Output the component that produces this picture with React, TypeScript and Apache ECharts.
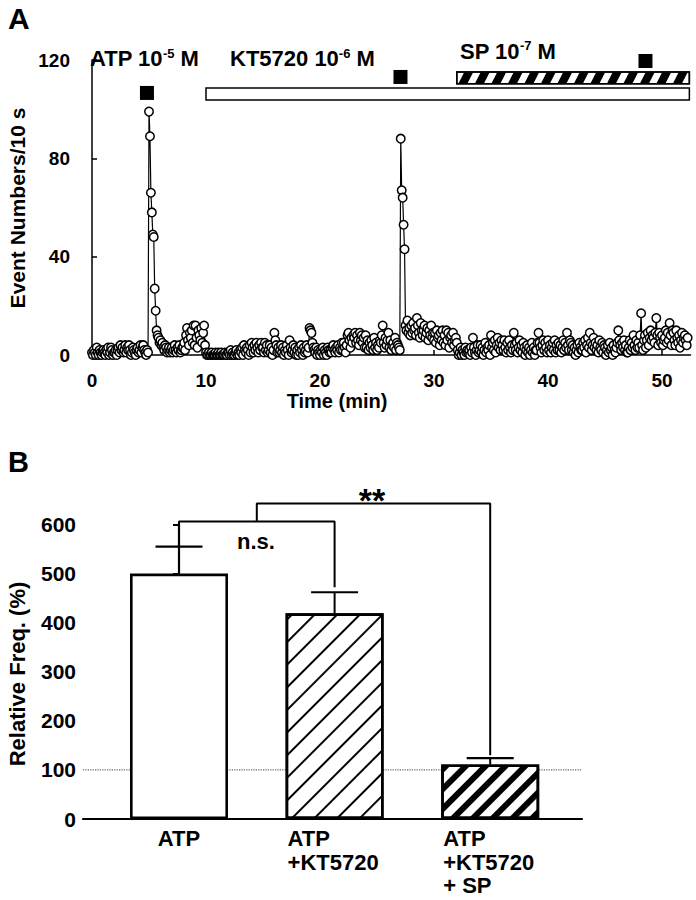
import React, { useEffect, useRef } from 'react';
import * as echarts from 'echarts';

const FONT = '"Liberation Sans", Arial, Helvetica, sans-serif';

// ---------- Panel A data (event counts per 10 s window, one value every 5 s; one row per minute) ----------
const sampleStepMin = 1 / 12;
const eventCounts = [
  1, 0, 2, 1, 0, 3, 1, 0, 2, 1, 0, 1,
  2, 1, 0, 2, 1, 3, 0, 1, 3, 2, 0, 1,
  1, 2, 0, 2, 3, 1, 4, 2, 3, 1, 2, 4,
  1, 3, 2, 4, 2, 0, 1, 3, 2, 1, 0, 2,
  3, 1, 2, 4, 1, 3, 4, 2, 1, 0, 2, 1,
  99, 89, 66, 58, 49, 48, 27, 18, 10, 8, 7, 5,
  6, 4, 5, 3, 2, 4, 3, 1, 2, 3, 1, 2,
  3, 1, 2, 4, 2, 1, 3, 2, 4, 1, 2, 3,
  3, 5, 2, 8, 11, 6, 4, 9, 7, 10, 5, 12,
  4, 12, 7, 3, 10, 8, 6, 11, 5, 9, 12, 4,
  1, 0, 0, 1, 0, 0, 1, 0, 0, 0, 1, 0,
  0, 1, 0, 0, 1, 0, 0, 0, 1, 0, 0, 1,
  1, 0, 2, 0, 1, 0, 0, 1, 2, 0, 1, 0,
  2, 1, 3, 0, 4, 2, 1, 3, 2, 0, 4, 1,
  5, 3, 1, 4, 2, 5, 3, 1, 4, 2, 5, 3,
  3, 1, 5, 2, 4, 1, 2, 4, 1, 3, 0, 2,
  9, 6, 4, 1, 3, 1, 2, 4, 1, 3, 0, 2,
  1, 4, 2, 0, 6, 3, 1, 2, 4, 1, 3, 0,
  2, 0, 3, 1, 4, 2, 0, 3, 1, 2, 4, 1,
  3, 11, 10, 9, 5, 3, 2, 1, 3, 0, 2, 1,
  0, 2, 1, 3, 0, 2, 1, 0, 3, 2, 1, 2,
  1, 3, 4, 2, 1, 3, 2, 4, 1, 3, 2, 5,
  2, 5, 3, 1, 4, 8, 9, 6, 3, 7, 5, 8,
  7, 9, 5, 8, 6, 4, 9, 6, 8, 5, 7, 3,
  8, 3, 6, 2, 5, 3, 6, 4, 2, 7, 3, 5,
  2, 4, 3, 6, 5, 8, 12, 5, 3, 7, 4, 6,
  9, 3, 6, 2, 4, 5, 3, 7, 2, 5, 4, 3,
  2, 88, 67, 64, 53, 43, 12, 10, 14, 9, 11, 8,
  12, 9, 13, 10, 11, 8, 15, 12, 9, 7, 13, 10,
  8, 10, 12, 7, 9, 11, 6, 10, 8, 12, 7, 9,
  6, 9, 5, 10, 7, 8, 4, 9, 6, 10, 5, 8,
  4, 10, 6, 9, 3, 7, 8, 5, 9, 4, 6, 7,
  5, 2, 0, 1, 3, 0, 2, 1, 0, 3, 1, 2,
  1, 2, 0, 3, 1, 7, 3, 1, 0, 2, 4, 1,
  2, 4, 1, 3, 0, 2, 5, 1, 3, 2, 4, 0,
  8, 3, 5, 2, 6, 1, 4, 7, 3, 5, 2, 6,
  4, 2, 6, 3, 1, 5, 2, 6, 3, 1, 4, 2,
  9, 4, 2, 5, 1, 3, 6, 2, 4, 1, 5, 3,
  0, 2, 4, 1, 3, 0, 2, 5, 1, 3, 0, 2,
  2, 5, 9, 5, 3, 1, 4, 6, 2, 5, 3, 1,
  6, 2, 4, 1, 3, 5, 2, 6, 1, 4, 2, 5,
  2, 4, 1, 3, 6, 2, 5, 3, 9, 4, 2, 6,
  5, 2, 4, 1, 3, 0, 2, 4, 1, 5, 3, 2,
  2, 5, 3, 6, 1, 4, 7, 3, 9, 5, 2, 4,
  7, 3, 5, 2, 4, 1, 6, 3, 2, 5, 1, 4,
  3, 0, 2, 4, 1, 5, 2, 3, 0, 4, 2, 1,
  3, 5, 10, 6, 4, 2, 5, 3, 6, 2, 4, 1,
  1, 3, 6, 2, 5, 3, 8, 4, 2, 6, 3, 5,
  3, 8, 17, 4, 2, 6, 8, 3, 6, 9, 4, 7,
  10, 6, 8, 7, 5, 9, 15, 8, 4, 9, 7, 5,
  8, 4, 6, 7, 10, 5, 9, 6, 13, 8, 4, 10,
  9, 6, 4, 10, 7, 5, 8, 3, 6, 9, 5, 7,
  8, 6, 4, 7,
];
const timeTicks = [0, 10, 20, 30, 40, 50];
const countTicksMax = 120;
const atpPulseTimes = [4.82, 27.06, 48.55];
const atpMarkerLevels = [106.6, 113.1, 119.6];
// [start, end, lowLevel, highLevel, hatched]
const kt5720Period = [10, 52.4, 103.7, 108.6, 0];
const spPeriod = [32, 52.4, 110.3, 115.1, 1];

// ---------- Panel B data ----------
const groupNames = ['ATP', 'ATP\n+KT5720', 'ATP\n+KT5720\n+ SP'];
const relFreqMean = [500, 419, 111];
const relFreqSem = [55, 43, 13];
const controlLevel = 100;
const nsBracket = [[0, 555], [0, 606], [1, 606], [1, 472]];
const sigBracket = [[0.5, 606], [0.5, 643], [2, 643], [2, 130]];

const seriesA = eventCounts.map((v, i) => [i * sampleStepMin, v]);

function buildOption(): any {
  const bold = { fontFamily: FONT, fontWeight: 'bold', color: '#000' };
  const decals: any[] = [
    null,
    { symbol: 'rect', symbolSize: 1, dashArrayX: [1, 0], dashArrayY: [1.6, 14], rotation: -Math.PI / 4, color: '#000' },
    { symbol: 'rect', symbolSize: 1, dashArrayX: [1, 0], dashArrayY: [5.5, 7.2], rotation: -Math.PI / 4, color: '#000' },
  ];
  const labelPos: any[] = [
    { position: ['50%', '100%'], align: 'center' },
    { position: [2, '100%'], align: 'left' },
    { position: [2, '100%'], align: 'left' },
  ];
  const xMinB = -0.617;
  const xMaxB = 2.59;

  const txt = (text: string, x: number, y: number, size: number, extra: any = {}, el: any = {}) => ({
    type: 'text', x, y, silent: true, z: 100, ...el,
    style: { text, fontSize: size, fontWeight: 'bold', fontFamily: FONT, fill: '#000', align: 'left', verticalAlign: 'middle', ...extra },
  });
  const richLabel = (main: string, sup: string, x: number, y: number) => ({
    type: 'text', x, y, silent: true, z: 100,
    style: {
      text: `{m|${main}}{s|${sup}}{m| M}`,
      align: 'left', verticalAlign: 'middle', fill: '#000',
      rich: {
        m: { fontSize: 22, fontWeight: 'bold', fontFamily: FONT, lineHeight: 24, fill: '#000' },
        s: { fontSize: 13, fontWeight: 'bold', fontFamily: FONT, lineHeight: 17, verticalAlign: 'top', fill: '#000' },
      },
    },
  });

  return {
    animation: false,
    backgroundColor: '#fff',
    grid: [
      { left: 92, right: 5.5, top: 60, height: 295, outerBoundsMode: 'none', containLabel: false },
      { left: 83, right: 114, top: 524.5, height: 294.5, outerBoundsMode: 'none', containLabel: false },
    ],
    xAxis: [
      {
        gridIndex: 0, type: 'value', min: 0, max: 52.5, offset: 8,
        axisLine: { show: true, lineStyle: { color: '#000', width: 1.5 } },
        axisTick: { show: true, inside: true, length: 5, lineStyle: { color: '#000', width: 1.5 }, customValues: timeTicks },
        axisLabel: { show: true, customValues: timeTicks, margin: 8, fontSize: 19, ...bold },
        splitLine: { show: false },
      },
      {
        gridIndex: 1, type: 'value', min: xMinB, max: xMaxB,
        axisLine: { show: true, onZero: false, lineStyle: { color: '#000', width: 2.2 } },
        axisTick: { show: false },
        axisLabel: { show: false },
        splitLine: { show: false },
      },
    ],
    yAxis: [
      {
        gridIndex: 0, type: 'value', min: 0, max: countTicksMax, interval: 40, offset: 13,
        axisLine: { show: true, lineStyle: { color: '#000', width: 1.5 } },
        axisTick: { show: true, inside: true, length: 5, lineStyle: { color: '#000', width: 1.5 } },
        axisLabel: { margin: 9, fontSize: 19, ...bold },
        splitLine: { show: false },
      },
      {
        gridIndex: 1, type: 'value', min: 0, max: 600, interval: 100,
        axisLine: { show: true, lineStyle: { color: '#000', width: 2.2 } },
        axisTick: { show: true, inside: false, length: 6, lineStyle: { color: '#000', width: 2 } },
        axisLabel: { margin: 7, fontSize: 21, ...bold },
        splitLine: { show: false },
      },
    ],
    series: [
      {
        type: 'line', xAxisIndex: 0, yAxisIndex: 0, data: seriesA,
        showAllSymbol: true, symbol: 'circle', symbolSize: 8.5,
        itemStyle: { color: '#fff', borderColor: '#000', borderWidth: 1.5 },
        lineStyle: { color: '#000', width: 1.2 },
        silent: true, z: 2,
      },
      {
        type: 'scatter', xAxisIndex: 0, yAxisIndex: 0,
        data: atpPulseTimes.map((t, i) => [t, atpMarkerLevels[i]]),
        symbol: 'rect', symbolSize: 14, itemStyle: { color: '#000', opacity: 1 }, clip: false, silent: true, z: 3,
      },
      {
        type: 'custom', xAxisIndex: 0, yAxisIndex: 0, clip: false, silent: true, z: 3,
        data: [kt5720Period, spPeriod],
        renderItem: (params: any, api: any) => {
          const p0 = api.coord([api.value(0), api.value(3)]);
          const p1 = api.coord([api.value(1), api.value(2)]);
          const x = p0[0], y = p0[1], w = p1[0] - p0[0], h = p1[1] - p0[1];
          const children: any[] = [
            { type: 'rect', shape: { x, y, width: w, height: h }, style: { fill: '#fff', stroke: '#000', lineWidth: 1.5 } },
          ];
          if (api.value(4) === 1) {
            const period = 16.5, bw = 9, slant = 6;
            const cl = (v: number) => Math.max(x, Math.min(x + w, v));
            for (let x0 = x - slant - bw; x0 < x + w; x0 += period) {
              children.push({
                type: 'polygon',
                shape: { points: [[cl(x0), y + h], [cl(x0 + bw), y + h], [cl(x0 + bw + slant), y], [cl(x0 + slant), y]] },
                style: { fill: '#000' },
              });
            }
            children.push({ type: 'rect', shape: { x, y, width: w, height: h }, style: { fill: 'none', stroke: '#000', lineWidth: 1.5 } });
          }
          return { type: 'group', children };
        },
      },
      // Panel B
      {
        type: 'line', xAxisIndex: 1, yAxisIndex: 1,
        data: [[xMinB, controlLevel], [xMaxB, controlLevel]],
        symbol: 'none', lineStyle: { color: '#666', width: 1.2, type: 'dotted' }, silent: true, z: 1,
      },
      {
        type: 'bar', xAxisIndex: 1, yAxisIndex: 1, barWidth: 98, z: 2, silent: true,
        data: relFreqMean.map((v, i) => ({
          value: [i, v],
          itemStyle: { color: '#fff', borderColor: '#000', borderWidth: 2.6, ...(decals[i] ? { decal: decals[i] } : {}) },
          label: { ...labelPos[i] },
        })),
        label: {
          show: true, formatter: (p: any) => groupNames[p.dataIndex], verticalAlign: 'top',
          offset: [0, 8], fontSize: 22, lineHeight: 23.5, ...bold,
        },
      },
      {
        type: 'custom', xAxisIndex: 1, yAxisIndex: 1, clip: false, silent: true, z: 3,
        data: relFreqMean.map((v, i) => [i, v, relFreqSem[i]]),
        renderItem: (params: any, api: any) => {
          const base = api.coord([api.value(0), api.value(1)]);
          const top = api.coord([api.value(0), api.value(1) + api.value(2)]);
          const half = 23.5;
          return {
            type: 'group', children: [
              { type: 'line', shape: { x1: top[0], y1: base[1], x2: top[0], y2: top[1] }, style: { stroke: '#000', lineWidth: 2 } },
              { type: 'line', shape: { x1: top[0] - half, y1: top[1], x2: top[0] + half, y2: top[1] }, style: { stroke: '#000', lineWidth: 2.2 } },
            ],
          };
        },
      },
      {
        type: 'line', xAxisIndex: 1, yAxisIndex: 1, data: nsBracket, clip: false,
        symbol: 'none', lineStyle: { color: '#000', width: 2 }, silent: true, z: 3,
      },
      {
        type: 'line', xAxisIndex: 1, yAxisIndex: 1, data: sigBracket, clip: false,
        symbol: 'none', lineStyle: { color: '#000', width: 2 }, silent: true, z: 3,
      },
    ],
    graphic: [
      txt('A', 8, 18, 30),
      txt('B', 8, 462, 29),
      richLabel('ATP 10', '-5', 90, 58.5),
      richLabel('KT5720 10', '-6', 230, 58.5),
      richLabel('SP 10', '-7', 460, 51),
      txt('Event Numbers/10 s', 17.5, 208, 21, { align: 'center' }, { rotation: Math.PI / 2 }),
      txt('Time (min)', 337, 401, 20, { align: 'center' }),
      txt('Relative Freq. (%)', 17.5, 674, 22, { align: 'center' }, { rotation: Math.PI / 2 }),
      txt('n.s.', 256, 541, 22, { align: 'center' }),
      txt('**', 372, 500, 34, { align: 'center' }),
    ],
  };
}

export default function App() {
  const ref = useRef<HTMLDivElement>(null);
  useEffect(() => {
    if (!ref.current) return;
    const chart = echarts.init(ref.current, null, { renderer: 'svg' });
    chart.setOption(buildOption());
    return () => chart.dispose();
  }, []);
  return (
    <div
      ref={ref}
      style={{ position: 'absolute', left: 0, top: 0, width: 696, height: 900, background: '#fff' }}
    />
  );
}
